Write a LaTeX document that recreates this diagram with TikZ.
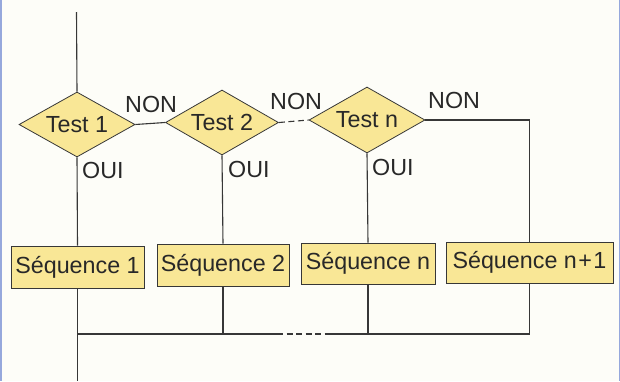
\documentclass[tikz,border=0pt]{standalone}
\usepackage{fontspec}
\setmainfont{Liberation Sans}
\usetikzlibrary{shapes.geometric,calc}
\definecolor{bg}{RGB}{253,253,248}
\definecolor{fillY}{RGB}{249,231,150}
\definecolor{ln}{RGB}{55,55,55}
\definecolor{txt}{RGB}{40,40,40}
\definecolor{edgeblue}{RGB}{150,168,220}
\begin{document}
\begin{tikzpicture}[x=1pt,y=-1pt,
  every node/.style={font=\fontsize{23.3}{27}\selectfont, text=txt},
  test/.style={diamond, draw=ln, fill=fillY, line width=0.8pt, inner sep=0pt, aspect=1.8, minimum width=116pt, minimum height=65pt},
  seqbox/.style={rectangle, draw=ln, fill=fillY, line width=0.8pt, inner sep=0pt, minimum height=42pt},
  wire/.style={draw=ln, line width=1.1pt},
  dwire/.style={wire, dash pattern=on 6pt off 3.5pt},
  lbl/.style={inner sep=0pt}]
  % background
  \fill[bg] (0,0) rectangle (620,381);
  \useasboundingbox (0,0) rectangle (620,381);
  \draw[edgeblue, line width=1.5pt] (0.75,0) -- (0.75,381);
  \draw[edgeblue, line width=1.5pt] (619.25,0) -- (619.25,381);

  % tests
  \node[test] (t1) at (77,124.5) {Test 1};
  \node[test, minimum width=113pt] (t2) at (222,122.5) {Test 2};
  \node[test, minimum height=66pt] (tn) at (367,120) {Test n};

  % sequences
  \node[seqbox, minimum width=133pt] (s1) at (77.5,267) {Séquence 1};
  \node[seqbox, minimum width=132pt] (s2) at (223,265) {Séquence 2};
  \node[seqbox, minimum width=134pt, minimum height=41pt] (sn) at (368,263.5) {Séquence n};
  \node[seqbox, minimum width=167pt, minimum height=41pt] (sn1) at (529.5,262.5) {Séquence n{\kern1.5pt}+{\kern1.5pt}1};

  % coordinates
  \coordinate (top) at (76.5,12);
  \coordinate (bot) at (77.5,381);
  \coordinate (j1) at (77.5,334);
  \coordinate (j2) at (223,334);
  \coordinate (jn) at (368,334);
  \coordinate (jn1) at (529.5,334);
  \coordinate (d1) at (277,334);
  \coordinate (d2) at (325,334);

  % connectors
  \draw[wire] (top) -- (t1.north);
  \draw[wire] (t1.east) -- (t2.west);
  \draw[dwire] (t2.east) -- (tn.west);
  \draw[wire] (tn.east) -| (sn1.north);
  \draw[wire] (t1.south) -- (s1.north);
  \draw[wire] (t2.south) -- (s2.north);
  \draw[wire] (tn.south) -- (sn.north);
  \draw[wire] (s1.south) -- (bot);
  \draw[wire] (s2.south) -- (j2);
  \draw[wire] (sn.south) -- (jn);
  \draw[wire] (sn1.south) -- (jn1);
  \draw[wire] (j1) -- (d1);
  \draw[dwire] (d1) -- (d2);
  \draw[wire] (d2) -- (jn1);

  % labels
  \node[lbl, anchor=south west] (non1) at (125,113) {NON};
  \node[lbl, anchor=south west] (non2) at (270,110) {NON};
  \node[lbl, anchor=south west] (nonn) at (428,109) {NON};
  \node[lbl, anchor=north west] (oui1) at (82,162) {OUI};
  \node[lbl, anchor=north west] (oui2) at (228,161) {OUI};
  \node[lbl, anchor=north west] (ouin) at (372,159) {OUI};
\end{tikzpicture}
\end{document}
